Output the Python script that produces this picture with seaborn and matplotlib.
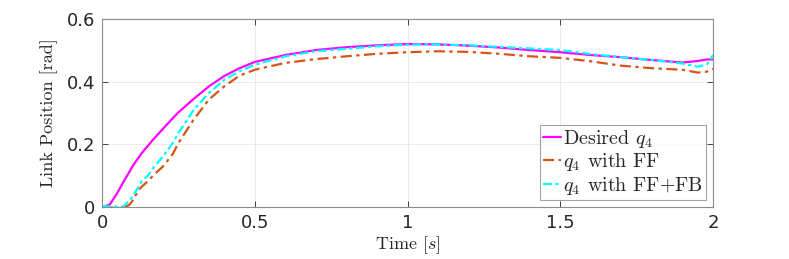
import numpy as np
import pandas as pd
import matplotlib
matplotlib.use('Agg')
import matplotlib.pyplot as plt
import seaborn as sns

# time samples [s]
t = [0, 0.025, 0.05, 0.07, 0.09, 0.1, 0.12, 0.13, 0.15, 0.167, 0.2, 0.232, 0.25,
     0.3, 0.35, 0.4, 0.45, 0.5, 0.6, 0.7, 0.8, 0.9, 1.0, 1.1, 1.2, 1.3, 1.4, 1.5,
     1.6, 1.7, 1.8, 1.9, 1.95, 1.98, 2.0]

q_desired = [0.0, 0.007, 0.045, 0.08, 0.113, 0.13, 0.158, 0.172, 0.195, 0.215, 0.25,
             0.284, 0.302, 0.345, 0.385, 0.418, 0.443, 0.463, 0.485, 0.501, 0.51,
             0.516, 0.52, 0.519, 0.515, 0.509, 0.501, 0.494, 0.485, 0.478, 0.469,
             0.461, 0.466, 0.471, 0.471]

q_ff = [0.0, -0.001, -0.003, -0.004, 0.007, 0.02, 0.055, 0.065, 0.082, 0.1, 0.13,
        0.17, 0.204, 0.279, 0.343, 0.385, 0.419, 0.438, 0.46, 0.472, 0.481, 0.489,
        0.494, 0.497, 0.495, 0.489, 0.481, 0.476, 0.465, 0.451, 0.443, 0.438,
        0.429, 0.432, 0.441]

q_fffb = [0.003, 0.002, 0.001, 0.002, 0.02, 0.034, 0.065, 0.082, 0.1, 0.124, 0.162,
          0.205, 0.236, 0.31, 0.364, 0.406, 0.433, 0.454, 0.481, 0.497, 0.505,
          0.513, 0.518, 0.519, 0.516, 0.511, 0.506, 0.501, 0.488, 0.478, 0.469,
          0.458, 0.448, 0.455, 0.485]

sns.set_style('whitegrid')
plt.rcParams['mathtext.fontset'] = 'cm'
plt.rcParams['font.family'] = ['DejaVu Sans']
plt.rcParams['axes.unicode_minus'] = False

fig = plt.figure(figsize=(7.89, 2.59), dpi=100)
ax = fig.add_axes([0.1293, 0.2008, 0.7744, 0.7258])

sns.lineplot(x=t, y=q_desired, ax=ax, color='#FF00FF', lw=1.6,
             label=r'Desired $q_4$')
sns.lineplot(x=t, y=q_ff, ax=ax, color='#D95319', lw=1.6,
             label=r'$q_4$ with FF')
sns.lineplot(x=t, y=q_fffb, ax=ax, color='#00FFFF', lw=1.6,
             label=r'$q_4$ with FF+FB')
ax.lines[1].set_dashes([5, 2, 1.5, 2])
ax.lines[2].set_dashes([4, 1.5, 1.5, 1.5])

ax.set_xlim(0, 2)
ax.set_ylim(0, 0.6)
ax.set_xticks([0, 0.5, 1, 1.5, 2])
ax.set_xticklabels(['0', '0.5', '1', '1.5', '2'])
ax.set_yticks([0, 0.2, 0.4, 0.6])
ax.set_yticklabels(['0', '0.2', '0.4', '0.6'])
ax.tick_params(direction='in', length=4, width=0.6, color='#262626',
               labelsize=13, labelcolor='#262626', pad=5,
               top=True, right=True, bottom=True, left=True)
ax.grid(True, color='#E6E6E6', lw=0.6)
for s in ax.spines.values():
    s.set_visible(True)
    s.set_color('#8C8C8C')
    s.set_linewidth(0.8)

ax.set_xlabel(r'Time [$s$]', fontfamily='cmr10', fontsize=13, color='#262626',
              labelpad=2)
ax.set_ylabel('Link Position [rad]', fontfamily='cmr10', fontsize=13,
              color='#262626', labelpad=6)

leg = ax.legend(loc='lower right', prop={'family': 'cmr10', 'size': 14.5},
                frameon=True, fancybox=False, handlelength=0.9, handletextpad=0.1,
                borderpad=0.15, labelspacing=0.08, borderaxespad=0.35)
leg.get_frame().set_edgecolor('#8C8C8C')
leg.get_frame().set_linewidth(0.8)

fig.savefig('out.png', dpi=100)
